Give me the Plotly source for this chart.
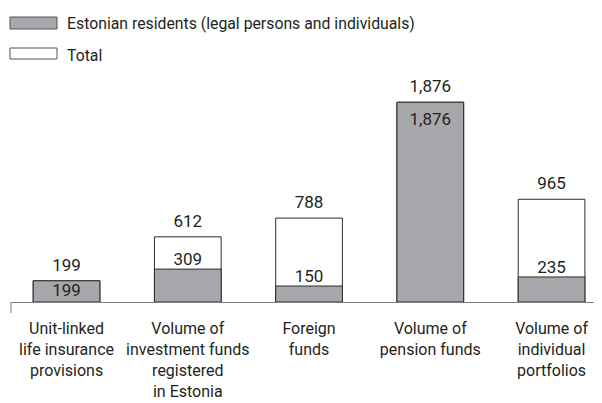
import plotly.graph_objects as go

categories = [
    "Unit-linked<br>life insurance<br>provisions",
    "Volume of<br>investment funds<br>registered<br>in Estonia",
    "Foreign<br>funds",
    "Volume of<br>pension funds",
    "Volume of<br>individual<br>portfolios",
]
total_values = [199, 612, 788, 1876, 965]
resident_values = [199, 309, 150, 1876, 235]

series_names = ["Estonian residents (legal persons and individuals)", "Total"]

FONT = "Roboto, sans-serif"
TXT = "#231f20"
GREY = "#a7a8ab"
EDGE = "#2b2b2b"

# page body has an 8px margin; work in screen pixels and convert
OFF = 8
W, H = 602, 403
SCR_LEFT, SCR_RIGHT, SCR_TOP, SCR_BOTTOM = 11, 602, 80, 302
ML = SCR_LEFT - OFF
MR = W - (SCR_RIGHT - OFF)
MT = SCR_TOP - OFF
MB = H - (SCR_BOTTOM - OFF)
plot_w = W - ML - MR
plot_h = H - MT - MB

def px_x(p):
    return (p - OFF - ML) / plot_w

def px_y(p):
    return (H - MB - (p - OFF)) / plot_h

def fmt(v):
    return f"{v:,}"

fig = go.Figure()
idx = list(range(len(categories)))

fig.add_trace(go.Bar(
    x=idx, y=total_values, width=0.55,
    marker=dict(color="white", line=dict(color=EDGE, width=1)),
    showlegend=False, hoverinfo="skip",
))
fig.add_trace(go.Bar(
    x=idx, y=resident_values, width=0.55,
    marker=dict(color=GREY, line=dict(color=EDGE, width=1)),
    showlegend=False, hoverinfo="skip",
))

# total labels above bars
fig.add_trace(go.Scatter(
    x=idx, y=total_values, mode="markers+text",
    marker=dict(size=8, opacity=0),
    text=[fmt(v) for v in total_values],
    textposition="top center",
    textfont=dict(family=FONT, size=17, color=TXT),
    showlegend=False, hoverinfo="skip", cliponaxis=False,
))
# resident labels
same = [r == t for r, t in zip(resident_values, total_values)]
res_pos = ["bottom center" if s else "top center" for s in same]
res_size = [3, 0, 0, 15, 0]
fig.add_trace(go.Scatter(
    x=idx, y=resident_values, mode="markers+text",
    marker=dict(size=res_size, opacity=0),
    text=[fmt(v) for v in resident_values],
    textposition=res_pos,
    textfont=dict(family=FONT, size=17, color=TXT),
    showlegend=False, hoverinfo="skip", cliponaxis=False,
))

shapes = [
    # left tick of axis
    dict(type="line", xref="paper", yref="paper", x0=0, x1=0,
         y0=0, y1=px_y(313), line=dict(color="#808080", width=1)),
    # legend swatches
    dict(type="rect", xref="paper", yref="paper",
         x0=px_x(10), x1=px_x(57), y0=px_y(29), y1=px_y(17),
         fillcolor=GREY, line=dict(color="#555555", width=1)),
    dict(type="rect", xref="paper", yref="paper",
         x0=px_x(10), x1=px_x(57), y0=px_y(59), y1=px_y(48),
         fillcolor="white", line=dict(color="#555555", width=1)),
]
annotations = [
    dict(xref="paper", yref="paper", x=px_x(65), y=px_y(24), text=series_names[0],
         showarrow=False, xanchor="left", yanchor="middle",
         font=dict(family=FONT, size=15.8, color=TXT)),
    dict(xref="paper", yref="paper", x=px_x(65), y=px_y(55), text=series_names[1],
         showarrow=False, xanchor="left", yanchor="middle",
         font=dict(family=FONT, size=15.8, color=TXT)),
]

fig.update_layout(
    width=W, height=H,
    margin=dict(l=ML, r=MR, t=MT, b=MB, pad=0, autoexpand=False),
    barmode="overlay",
    plot_bgcolor="white", paper_bgcolor="white",
    shapes=shapes, annotations=annotations,
    xaxis=dict(
        range=[-0.458, 4.416], tickmode="array", tickvals=idx, ticktext=categories,
        showline=True, linecolor="#808080", linewidth=1,
        showgrid=False, zeroline=False, ticks="", automargin=False,
        ticklabelstandoff=12,
        tickfont=dict(family=FONT, size=16, color=TXT),
    ),
    yaxis=dict(range=[0, 2085], visible=False, showgrid=False, zeroline=False,
               automargin=False),
)

fig.write_html("out.html")
